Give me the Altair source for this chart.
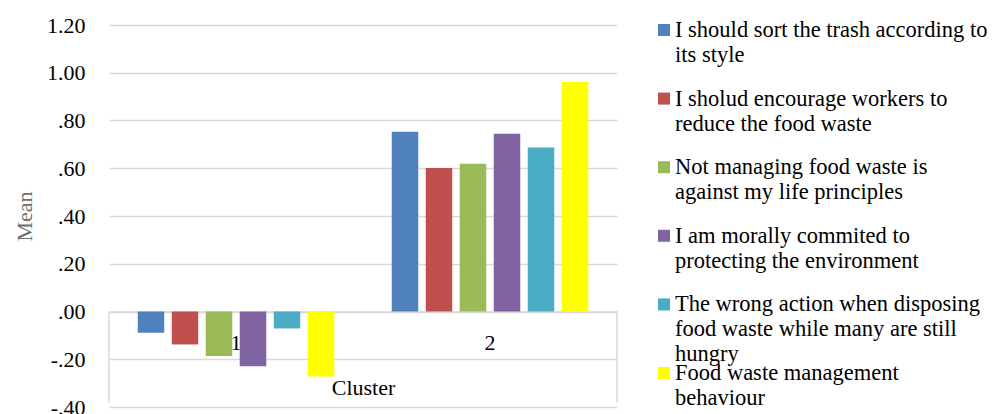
import altair as alt
import pandas as pd

# Cluster means for each attitude / behaviour item
clusters = ["1", "2"]
items = [
    "I should sort the trash according to its style",
    "I sholud encourage workers to reduce the food waste",
    "Not managing food waste is against my life principles",
    "I am morally commited to protecting the environment",
    "The wrong action when disposing food waste while many are still hungry",
    "Food waste management behaviour",
]
legend_lines = [
    "I should sort the trash according to\nits style",
    "I sholud encourage workers to\nreduce the food waste",
    "Not managing food waste is\nagainst my life principles",
    "I am morally commited to\nprotecting the environment",
    "The wrong action when disposing\nfood waste while many are still\nhungry",
    "Food waste management\nbehaviour",
]
means_cluster1 = [-0.089, -0.138, -0.186, -0.229, -0.071, -0.272]
means_cluster2 = [0.753, 0.601, 0.619, 0.745, 0.687, 0.961]
colors = ["#4f81bd", "#c0504d", "#9bbb59", "#8064a2", "#4bacc6", "#ffff00"]
y_ticks = [-0.4, -0.2, 0.0, 0.2, 0.4, 0.6, 0.8, 1.0, 1.2]

FONT = "Liberation Serif"
GRID = "#d9d9d9"
AXIS_SIZE = 22
LEGEND_SIZE = 22.5

rows = []
for c, vals in zip(clusters, [means_cluster1, means_cluster2]):
    for it, v in zip(items, vals):
        rows.append({"cluster": c, "item": it, "mean": v})
df = pd.DataFrame(rows)
edges = pd.DataFrame({"cluster": clusters})
legend_df = pd.DataFrame({"idx": list(range(len(items))), "item": items, "text": legend_lines})

color_scale = alt.Scale(domain=items, range=colors)
y_scale = alt.Scale(domain=[-0.4, 1.2], nice=False)
x_scale = alt.Scale(paddingInner=0, paddingOuter=0)

# SPSS-style tick labels: 1.20, .80, .00, -.20
tick_label = (
    "(datum.value < 0 ? '-' : '') + "
    "(abs(datum.value) >= 1 ? format(abs(datum.value), '.2f') "
    ": slice(format(abs(datum.value), '.2f'), 1))"
)

bars = alt.Chart(df).mark_bar().encode(
    x=alt.X(
        "cluster:N",
        scale=x_scale,
        axis=alt.Axis(
            orient="bottom", offset=-95.5, labelAngle=0, ticks=False, tickSize=0,
            domainColor=GRID, domainWidth=1.5, labelPadding=21,
            labelFont=FONT, labelFontSize=AXIS_SIZE, labelColor="#000000",
            title="Cluster", titleFont=FONT, titleFontSize=AXIS_SIZE, titleFontWeight="normal",
            titleColor="#000000", titleY=83, titleBaseline="alphabetic",
        ),
    ),
    xOffset=alt.XOffset("item:N", sort=items, scale=alt.Scale(paddingInner=0.22, paddingOuter=0.845)),
    y=alt.Y(
        "mean:Q",
        scale=y_scale,
        axis=alt.Axis(
            values=y_ticks, labelExpr=tick_label,
            grid=True, gridColor=GRID, gridWidth=1.5, domain=False, ticks=False, tickSize=0,
            labelPadding=24, labelFont=FONT, labelFontSize=AXIS_SIZE, labelColor="#000000",
            title="Mean", titleFont=FONT, titleFontSize=AXIS_SIZE, titleFontWeight="normal",
            titleColor="#6d6d6d", titleX=-78, titleY=191, titleBaseline="alphabetic",
        ),
    ),
    color=alt.Color("item:N", scale=color_scale, legend=None),
)

left_edge = alt.Chart(edges).transform_filter(alt.datum.cluster == "1").mark_rule(
    color=GRID, strokeWidth=1.5
).encode(
    x=alt.X("cluster:N", bandPosition=0),
    y=alt.datum(0),
    y2=alt.datum(-0.38),
)
right_edge = alt.Chart(edges).transform_filter(alt.datum.cluster == "2").mark_rule(
    color=GRID, strokeWidth=1.5
).encode(
    x=alt.X("cluster:N", bandPosition=1),
    y=alt.datum(0),
    y2=alt.datum(-0.38),
)

plot = alt.layer(bars, left_edge, right_edge)

# Legend: one square and a wrapped label per item, to the right of the plot
legend_y = alt.Y(
    "idx:Q",
    scale=alt.Scale(domain=[-0.073, 5.496], reverse=True, nice=False, zero=False),
    axis=None,
)
swatches = alt.Chart(legend_df).mark_square(size=144, opacity=1).encode(
    x=alt.value(555),
    y=legend_y,
    color=alt.Color("item:N", scale=color_scale, legend=None),
)
labels = alt.Chart(legend_df).mark_text(
    align="left", baseline="alphabetic", dy=7, font=FONT, fontSize=LEGEND_SIZE,
    lineHeight=25, lineBreak="\n", color="#000000",
).encode(
    x=alt.value(566),
    y=legend_y,
    text="text:N",
)
legend = alt.layer(swatches, labels)

chart = alt.layer(plot, legend).resolve_scale(y="independent").properties(
    width=508,
    height=382,
    autosize=alt.AutoSizeParams(type="none"),
    padding={"left": 109, "top": 25, "right": 377, "bottom": 7},
).configure_view(stroke=None)

chart.save("out.html", embed_options={"renderer": "svg", "actions": False})
